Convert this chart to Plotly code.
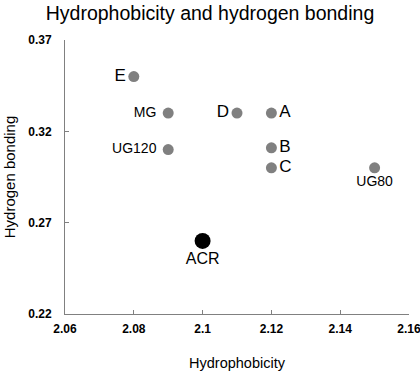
import plotly.graph_objects as go

labels = ["E", "MG ", "D", "A", "UG120 ", "B", "C", "UG80"]
hydrophobicity = [2.08, 2.09, 2.11, 2.12, 2.09, 2.12, 2.12, 2.15]
hbond = [0.35, 0.33, 0.33, 0.33, 0.31, 0.311, 0.30, 0.30]
positions = ["middle left", "middle left", "middle left", "middle right",
             "middle left", "middle right", "middle right", "bottom center"]
label_sizes = [17, 14, 17, 17, 14, 17, 17, 14]

acr_label = ["ACR"]
acr_x = [2.10]
acr_y = [0.26]

fig = go.Figure()
fig.add_trace(go.Scatter(
    x=hydrophobicity, y=hbond, mode="markers+text",
    text=labels, textposition=positions,
    textfont=dict(size=label_sizes, color="black", family="Liberation Sans, Arial"),
    marker=dict(size=11, color="#808080"),
    showlegend=False, cliponaxis=False,
))
fig.add_trace(go.Scatter(
    x=acr_x, y=acr_y, mode="markers+text",
    text=acr_label, textposition="bottom center",
    textfont=dict(size=16, color="black", family="Liberation Sans, Arial"),
    marker=dict(size=16, color="black"),
    showlegend=False, cliponaxis=False,
))

fig.update_layout(
    width=420, height=373,
    margin=dict(l=65, r=11, t=40, b=59, autoexpand=False),
    paper_bgcolor="white", plot_bgcolor="white",
    title=dict(text="Hydrophobicity and hydrogen bonding", x=0.5, xanchor="center",
               yref="container", y=0.966, yanchor="middle",
               font=dict(size=19.5, color="black", family="Liberation Sans, Arial")),
    font=dict(family="Liberation Sans, Arial", color="black"),
)
tickfont = dict(size=12, color="black", family="Liberation Sans Narrow, Arial Narrow, Liberation Sans", weight="bold")
fig.update_xaxes(
    range=[2.06, 2.16], tickvals=[2.06, 2.08, 2.1, 2.12, 2.14, 2.16],
    ticktext=["2.06", "2.08", "2.1", "2.12", "2.14", "2.16"],
    showgrid=False, zeroline=False, showline=True, linecolor="#808080", linewidth=1,
    ticks="inside", ticklen=4, tickcolor="#808080", automargin=False,
    ticklabeloverflow="allow", ticklabelstandoff=4,
    tickfont=tickfont,
    title=dict(text="Hydrophobicity", font=dict(size=14.5, color="black"), standoff=22),
)
fig.update_yaxes(
    range=[0.22, 0.37], tickvals=[0.22, 0.27, 0.32, 0.37],
    ticktext=["0.22", "0.27", "0.32", "0.37"],
    showgrid=False, zeroline=False, showline=True, linecolor="#808080", linewidth=1,
    ticks="inside", ticklen=4, tickcolor="#808080", automargin=False,
    ticklabeloverflow="allow", ticklabelstandoff=10,
    tickfont=tickfont,
    title=dict(text="Hydrogen bonding", font=dict(size=15, color="black"), standoff=8),
)
fig.write_html("out.html", config={"displayModeBar": False},
               post_script="document.body.style.margin='0';document.body.style.overflow='hidden';")
